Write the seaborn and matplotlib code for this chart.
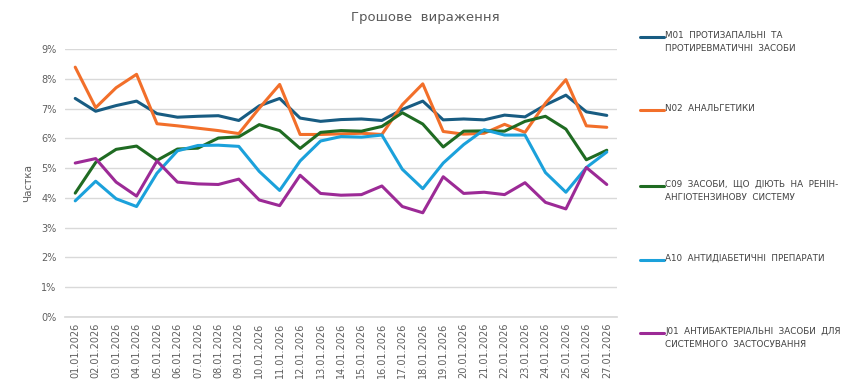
import matplotlib
matplotlib.use("Agg")
import matplotlib.pyplot as plt
import seaborn as sns
import pandas as pd
from matplotlib.lines import Line2D
from matplotlib.ticker import FuncFormatter, MultipleLocator

dates = [f"{d:02d}.01.2026" for d in range(1, 28)]

m01 = [7.34, 6.91, 7.10, 7.25, 6.83, 6.71, 6.74, 6.76, 6.60, 7.09, 7.34, 6.68, 6.57, 6.63,
       6.65, 6.60, 6.97, 7.25, 6.62, 6.65, 6.62, 6.78, 6.72, 7.12, 7.45, 6.89, 6.77]
n02 = [8.39, 7.03, 7.70, 8.15, 6.49, 6.42, 6.34, 6.26, 6.16, 7.01, 7.81, 6.13, 6.13, 6.15,
       6.17, 6.13, 7.13, 7.83, 6.23, 6.14, 6.17, 6.47, 6.20, 7.18, 7.97, 6.42, 6.37]
c09 = [4.16, 5.19, 5.63, 5.74, 5.26, 5.64, 5.67, 6.01, 6.05, 6.46, 6.26, 5.66, 6.20, 6.26,
       6.24, 6.40, 6.86, 6.48, 5.71, 6.24, 6.25, 6.24, 6.57, 6.74, 6.31, 5.28, 5.60]
a10 = [3.90, 4.56, 3.97, 3.71, 4.83, 5.58, 5.76, 5.77, 5.73, 4.89, 4.25, 5.24, 5.91, 6.06,
       6.04, 6.11, 4.96, 4.31, 5.17, 5.79, 6.29, 6.11, 6.11, 4.85, 4.19, 5.02, 5.54]
j01 = [5.17, 5.32, 4.53, 4.06, 5.24, 4.53, 4.47, 4.45, 4.63, 3.93, 3.74, 4.76, 4.15, 4.09,
       4.11, 4.40, 3.71, 3.50, 4.71, 4.15, 4.19, 4.11, 4.51, 3.85, 3.63, 5.02, 4.45]

series_names = [
    "M01  ПРОТИЗАПАЛЬНІ  ТА\nПРОТИРЕВМАТИЧНІ  ЗАСОБИ",
    "N02  АНАЛЬГЕТИКИ",
    "C09  ЗАСОБИ,  ЩО  ДІЮТЬ  НА  РЕНІН-\nАНГІОТЕНЗИНОВУ  СИСТЕМУ",
    "A10  АНТИДІАБЕТИЧНІ  ПРЕПАРАТИ",
    "J01  АНТИБАКТЕРІАЛЬНІ  ЗАСОБИ  ДЛЯ\nСИСТЕМНОГО  ЗАСТОСУВАННЯ",
]
series_values = [m01, n02, c09, a10, j01]
colors = ["#185c82", "#f26f2a", "#1f6b22", "#1ba1db", "#9c2a96"]

rows = []
for name, vals in zip(series_names, series_values):
    for i, (d, v) in enumerate(zip(dates, vals)):
        rows.append({"idx": i, "date": d, "value": v, "series": name})
df = pd.DataFrame(rows)

sns.set_theme(style="white")
plt.rcParams["font.family"] = ["DejaVu Sans"]

fig = plt.figure(figsize=(8.5, 3.89), dpi=100)
ax = fig.add_axes([65 / 850, 1 - 317 / 389, (617 - 65) / 850, (317 - 49) / 389])

sns.lineplot(data=df, x="idx", y="value", hue="series", hue_order=series_names,
             palette=colors, linewidth=2.2, ax=ax, legend=False)

ax.set_xlim(-0.5, 26.5)
ax.set_ylim(0, 9)
ax.yaxis.set_major_locator(MultipleLocator(1))
ax.yaxis.set_major_formatter(FuncFormatter(lambda v, p: f"{v:.0f}%"))
ax.set_xticks(range(len(dates)))
ax.set_xticklabels(dates, rotation=90, fontsize=7, color="#606060")
ax.tick_params(axis="y", labelsize=7, colors="#606060", length=0, pad=6)
ax.tick_params(axis="x", length=0, pad=4)
ax.grid(axis="y", color="#d9d9d9", linewidth=1)
ax.set_axisbelow(True)
for s in ["top", "right", "left"]:
    ax.spines[s].set_visible(False)
ax.spines["bottom"].set_color("#d9d9d9")
ax.set_xlabel("")
ax.set_ylabel("Частка", fontsize=7.5, color="#606060", labelpad=6)

fig.text(425 / 850, 1 - 18 / 389, "Грошове  вираження", ha="center", va="center",
         fontsize=9.5, color="#595959")

legend_y = [37, 110, 186, 260, 333]
for name, col, yp in zip(series_names, colors, legend_y):
    yf = 1 - yp / 389
    fig.add_artist(Line2D([640 / 850, 664 / 850], [yf, yf], color=col, linewidth=2.2,
                          transform=fig.transFigure))
    fig.text(665 / 850, yf + 6 / 389, name, ha="left", va="top", fontsize=6.3,
             color="#404040", linespacing=1.55)

fig.savefig("out.png", dpi=100)
